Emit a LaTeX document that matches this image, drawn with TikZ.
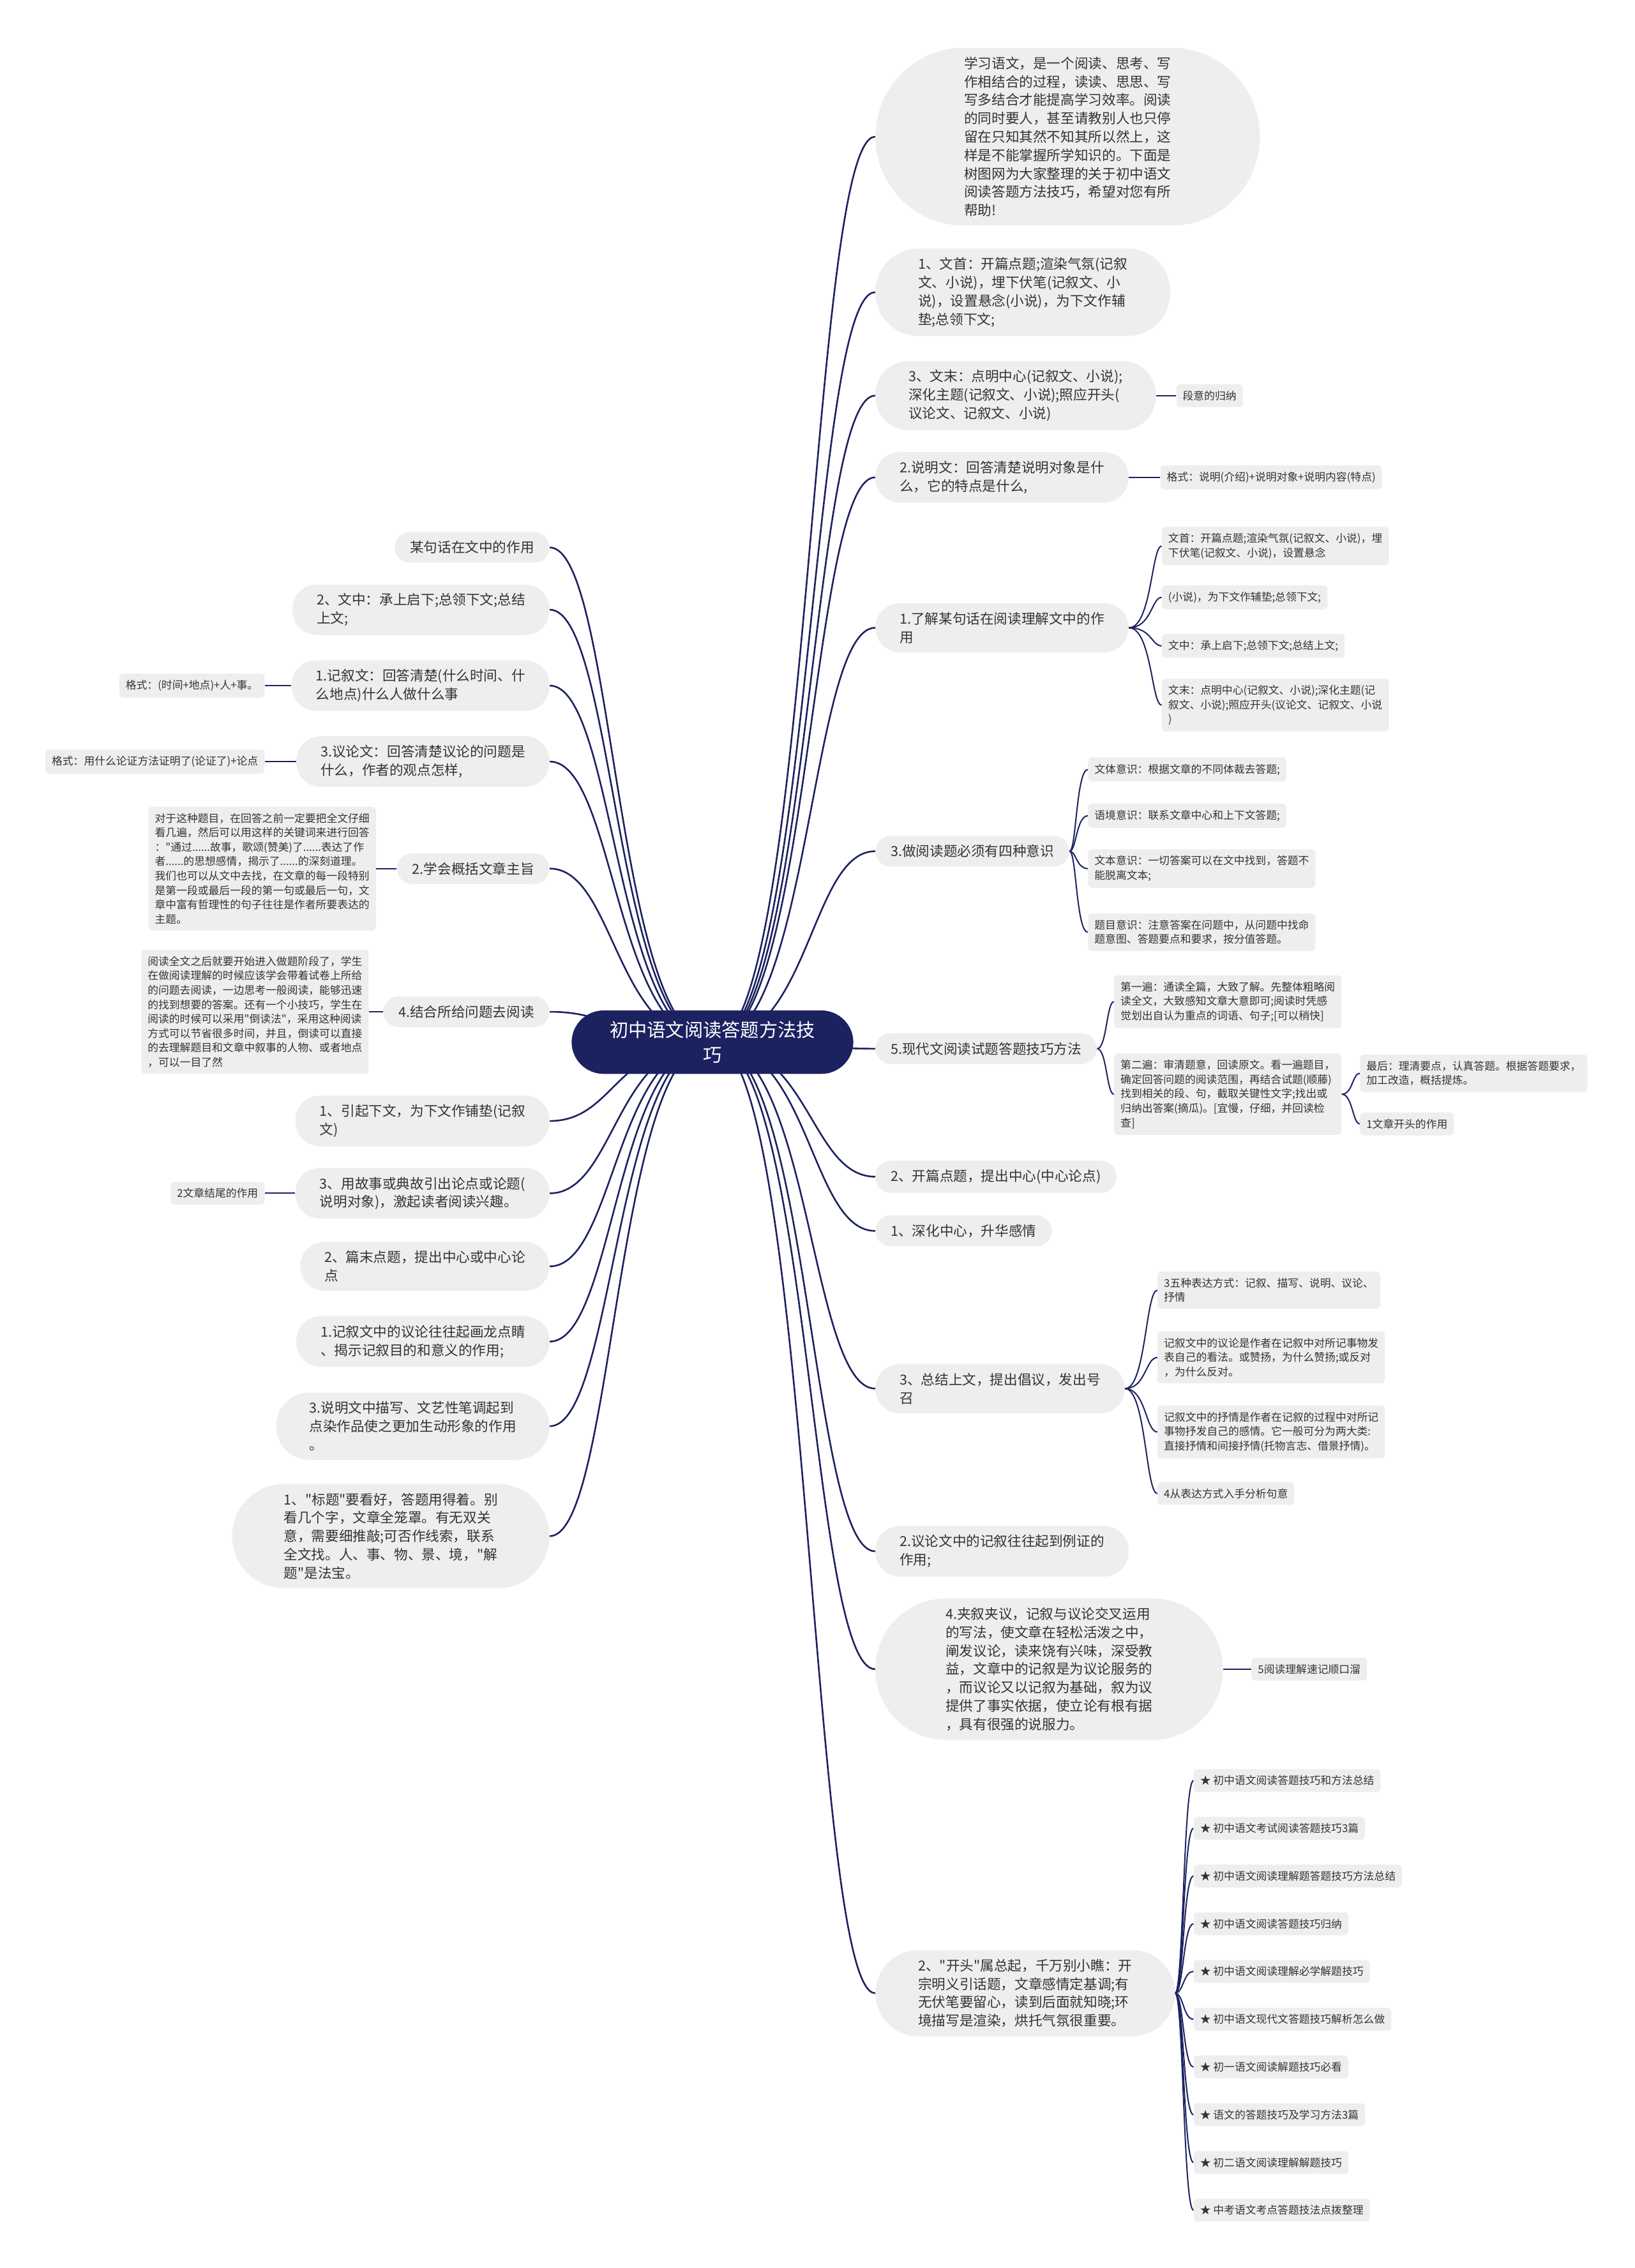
\documentclass[tikz,border=0pt]{standalone}
\usepackage{fontspec}
\setmainfont{Noto Sans CJK SC}[Ligatures=TeXOff]
\definecolor{navy}{HTML}{1C2260}
\definecolor{bubble}{HTML}{EEEEEE}
\definecolor{ink}{HTML}{333333}
\pgfdeclarelayer{paper}
\pgfdeclarelayer{links}
\pgfsetlayers{paper,links,main}
\tikzset{
  topic/.style={rectangle, rounded corners=#1, inner xsep=#1, fill=bubble, text=ink, align=left, inner ysep=7pt, font=\fontsize{10.8pt}{14.4pt}\selectfont},
  topic/.default=12pt,
  leaf/.style={rectangle, rounded corners=3pt, fill=bubble, text=ink, align=left, inner xsep=5pt, inner ysep=5pt, font=\fontsize{8.4pt}{11.3pt}\selectfont},
  branch/.style={navy, line width=1.3pt},
  twig/.style={navy, line width=1pt}
}

\begin{document}
\begin{tikzpicture}[x=1.1327pt, y=-1.1327pt]
\begin{pgfonlayer}{paper}
\fill[white] (0,0) rectangle (1130,1568);
\end{pgfonlayer}
\useasboundingbox (0,0) rectangle (1130,1568);

%root
\node[rectangle, rounded corners=25pt, fill=navy, text=white, align=center, inner xsep=30pt, inner ysep=8.5pt, font=\fontsize{14.6pt}{19.3pt}\selectfont] (root) at (492.5,720.5) {初中语文阅读答题方法技\\巧};

%right
\node[topic=69.5pt, anchor=west] (r1) at (605,94.5) {学习语文，是一个阅读、思考、写\\作相结合的过程，读读、思思、写\\写多结合才能提高学习效率。阅读\\的同时要人，甚至请教别人也只停\\留在只知其然不知其所以然上，这\\样是不能掌握所学知识的。下面是\\树图网为大家整理的关于初中语文\\阅读答题方法技巧，希望对您有所\\帮助!};
\node[topic=33.5pt, anchor=west] (r2) at (605,202) {1、文首：开篇点题;渲染气氛(记叙\\文、小说)，埋下伏笔(记叙文、小\\说)，设置悬念(小说)，为下文作辅\\垫;总领下文;};
\node[topic=26pt, anchor=west] (r3) at (605,273.5) {3、文末：点明中心(记叙文、小说);\\深化主题(记叙文、小说);照应开头(\\议论文、记叙文、小说)};
\node[topic=19pt, anchor=west] (r4) at (605,330) {2.说明文：回答清楚说明对象是什\\么，它的特点是什么,};
\node[topic=19pt, anchor=west] (r5) at (605,434) {1.了解某句话在阅读理解文中的作\\用};
\node[topic, anchor=west] (r6) at (605,588.5) {3.做阅读题必须有四种意识};
\node[topic, anchor=west] (r7) at (605,725) {5.现代文阅读试题答题技巧方法};
\node[topic, anchor=west] (r8) at (605,813.5) {2、开篇点题，提出中心(中心论点)};
\node[topic, anchor=west] (r9) at (605,851) {1、深化中心，升华感情};
\node[topic=19pt, anchor=west] (r10) at (605,960) {3、总结上文，提出倡议，发出号\\召};
\node[topic=19pt, anchor=west] (r11) at (605,1072.5) {2.议论文中的记叙往往起到例证的\\作用;};
\node[topic=55pt, anchor=west] (r12) at (605,1154) {4.夹叙夹议，记叙与议论交叉运用\\的写法，使文章在轻松活泼之中，\\阐发议论，读来饶有兴味，深受教\\益，文章中的记叙是为议论服务的\\，而议论又以记叙为基础，叙为议\\提供了事实依据，使立论有根有据\\，具有很强的说服力。};
\node[topic=33.5pt, anchor=west] (r13) at (605,1378) {2、"开头"属总起，千万别小瞧：开\\宗明义引话题，文章感情定基调;有\\无伏笔要留心，读到后面就知晓;环\\境描写是渲染，烘托气氛很重要。};

%right leaves
\node[leaf, anchor=west] (r3a) at (813,273.5) {段意的归纳};
\node[leaf, anchor=west] (r4a) at (802,330) {格式：说明(介绍)+说明对象+说明内容(特点)};
\node[leaf, anchor=west] (r5a) at (803,377.5) {文首：开篇点题;渲染气氛(记叙文、小说)，埋\\下伏笔(记叙文、小说)，设置悬念};
\node[leaf, anchor=west] (r5b) at (803,413) {(小说)，为下文作辅垫;总领下文;};
\node[leaf, anchor=west] (r5c) at (803,446.5) {文中：承上启下;总领下文;总结上文;};
\node[leaf, anchor=west] (r5d) at (803,487.5) {文末：点明中心(记叙文、小说);深化主题(记\\叙文、小说);照应开头(议论文、记叙文、小说\\)};
\node[leaf, anchor=west] (r6a) at (752,532) {文体意识：根据文章的不同体裁去答题;};
\node[leaf, anchor=west] (r6b) at (752,564) {语境意识：联系文章中心和上下文答题;};
\node[leaf, anchor=west] (r6c) at (752,600.5) {文本意识：一切答案可以在文中找到，答题不\\能脱离文本;};
\node[leaf, anchor=west] (r6d) at (752,644.5) {题目意识：注意答案在问题中，从问题中找命\\题意图、答题要点和要求，按分值答题。};
\node[leaf, anchor=west] (r7a) at (770,692.5) {第一遍：通读全篇，大致了解。先整体粗略阅\\读全文，大致感知文章大意即可;阅读时凭感\\觉划出自认为重点的词语、句子;[可以稍快]};
\node[leaf, anchor=west] (r7b) at (770,756.5) {第二遍：审清题意，回读原文。看一遍题目，\\确定回答问题的阅读范围，再结合试题(顺藤)\\找到相关的段、句，截取关键性文字;找出或\\归纳出答案(摘瓜)。[宜慢，仔细，并回读检\\查]};
\node[leaf, anchor=west] (r7c) at (940,742) {最后：理清要点，认真答题。根据答题要求，\\加工改造，概括提炼。};
\node[leaf, anchor=west] (r7d) at (940,777) {1文章开头的作用};
\node[leaf, anchor=west] (r10a) at (800,892) {3五种表达方式：记叙、描写、说明、议论、\\抒情};
\node[leaf, anchor=west] (r10b) at (800,938.5) {记叙文中的议论是作者在记叙中对所记事物发\\表自己的看法。或赞扬，为什么赞扬;或反对\\，为什么反对。};
\node[leaf, anchor=west] (r10c) at (800,990) {记叙文中的抒情是作者在记叙的过程中对所记\\事物抒发自己的感情。它一般可分为两大类:\\直接抒情和间接抒情(托物言志、借景抒情)。};
\node[leaf, anchor=west] (r10d) at (800,1032.5) {4从表达方式入手分析句意};
\node[leaf, anchor=west] (r12a) at (865,1154) {5阅读理解速记顺口溜};
\node[leaf, anchor=west] (s1) at (825,1231) {★ 初中语文阅读答题技巧和方法总结};
\node[leaf, anchor=west] (s2) at (825,1264) {★ 初中语文考试阅读答题技巧3篇};
\node[leaf, anchor=west] (s3) at (825,1297) {★ 初中语文阅读理解题答题技巧方法总结};
\node[leaf, anchor=west] (s4) at (825,1330) {★ 初中语文阅读答题技巧归纳};
\node[leaf, anchor=west] (s5) at (825,1363) {★ 初中语文阅读理解必学解题技巧};
\node[leaf, anchor=west] (s6) at (825,1396) {★ 初中语文现代文答题技巧解析怎么做};
\node[leaf, anchor=west] (s7) at (825,1429) {★ 初一语文阅读解题技巧必看};
\node[leaf, anchor=west] (s8) at (825,1462) {★ 语文的答题技巧及学习方法3篇};
\node[leaf, anchor=west] (s9) at (825,1495) {★ 初二语文阅读理解解题技巧};
\node[leaf, anchor=west] (s10) at (825,1528) {★ 中考语文考点答题技法点拨整理};

%left
\node[topic, anchor=east] (l1) at (380,378.5) {某句话在文中的作用};
\node[topic=19pt, anchor=east] (l2) at (380,421.5) {2、文中：承上启下;总领下文;总结\\上文;};
\node[topic=19pt, anchor=east] (l3) at (380,474) {1.记叙文：回答清楚(什么时间、什\\么地点)什么人做什么事};
\node[topic=19pt, anchor=east] (l4) at (380,526.5) {3.议论文：回答清楚议论的问题是\\什么，作者的观点怎样,};
\node[topic, anchor=east] (l5) at (380,600.5) {2.学会概括文章主旨};
\node[topic, anchor=east] (l6) at (380,699.5) {4.结合所给问题去阅读};
\node[topic=19pt, anchor=east] (l7) at (380,775) {1、引起下文，为下文作铺垫(记叙\\文)};
\node[topic=19pt, anchor=east] (l8) at (380,825) {3、用故事或典故引出论点或论题(\\说明对象)，激起读者阅读兴趣。};
\node[topic=19pt, anchor=east] (l9) at (380,875.5) {2、篇末点题，提出中心或中心论\\点};
\node[topic=19pt, anchor=east] (l10) at (380,927.5) {1.记叙文中的议论往往起画龙点睛\\、揭示记叙目的和意义的作用;};
\node[topic=26pt, anchor=east] (l11) at (380,986) {3.说明文中描写、文艺性笔调起到\\点染作品使之更加生动形象的作用\\。};
\node[topic=40.5pt, anchor=east] (l12) at (380,1062) {1、"标题"要看好，答题用得着。别\\看几个字，文章全笼罩。有无双关\\意，需要细推敲;可否作线索，联系\\全文找。人、事、物、景、境，"解\\题"是法宝。};

%left leaves
\node[leaf, anchor=east] (l3a) at (183,474) {格式：(时间+地点)+人+事。};
\node[leaf, anchor=east] (l4a) at (183,526.5) {格式：用什么论证方法证明了(论证了)+论点};
\node[leaf, anchor=east] (l5a) at (260,600.5) {对于这种题目，在回答之前一定要把全文仔细\\看几遍，然后可以用这样的关键词来进行回答\\："通过......故事，歌颂(赞美)了......表达了作\\者......的思想感情，揭示了......的深刻道理。\\我们也可以从文中去找，在文章的每一段特别\\是第一段或最后一段的第一句或最后一句，文\\章中富有哲理性的句子往往是作者所要表达的\\主题。};
\node[leaf, anchor=east] (l6a) at (255,699.5) {阅读全文之后就要开始进入做题阶段了，学生\\在做阅读理解的时候应该学会带着试卷上所给\\的问题去阅读，一边思考一般阅读，能够迅速\\的找到想要的答案。还有一个小技巧，学生在\\阅读的时候可以采用"倒读法"，采用这种阅读\\方式可以节省很多时间，并且，倒读可以直接\\的去理解题目和文章中叙事的人物、或者地点\\，可以一目了然};
\node[leaf, anchor=east] (l8a) at (183,825) {2文章结尾的作用};

%links
\begin{pgfonlayer}{links}
\coordinate (rr) at (560,720.5);
\coordinate (rl) at (425,720.5);
%root to right
\draw[branch] (root.center) .. controls (rr) and (rr |- r1.west) .. (r1.west);
\draw[branch] (root.center) .. controls (rr) and (rr |- r2.west) .. (r2.west);
\draw[branch] (root.center) .. controls (rr) and (rr |- r3.west) .. (r3.west);
\draw[branch] (root.center) .. controls (rr) and (rr |- r4.west) .. (r4.west);
\draw[branch] (root.center) .. controls (rr) and (rr |- r5.west) .. (r5.west);
\draw[branch] (root.center) .. controls (rr) and (rr |- r6.west) .. (r6.west);
\draw[branch] (root.center) .. controls (rr) and (rr |- r7.west) .. (r7.west);
\draw[branch] (root.center) .. controls (rr) and (rr |- r8.west) .. (r8.west);
\draw[branch] (root.center) .. controls (rr) and (rr |- r9.west) .. (r9.west);
\draw[branch] (root.center) .. controls (rr) and (rr |- r10.west) .. (r10.west);
\draw[branch] (root.center) .. controls (rr) and (rr |- r11.west) .. (r11.west);
\draw[branch] (root.center) .. controls (rr) and (rr |- r12.west) .. (r12.west);
\draw[branch] (root.center) .. controls (rr) and (rr |- r13.west) .. (r13.west);
%root to left
\draw[branch] (root.center) .. controls (rl) and (rl |- l1.east) .. (l1.east);
\draw[branch] (root.center) .. controls (rl) and (rl |- l2.east) .. (l2.east);
\draw[branch] (root.center) .. controls (rl) and (rl |- l3.east) .. (l3.east);
\draw[branch] (root.center) .. controls (rl) and (rl |- l4.east) .. (l4.east);
\draw[branch] (root.center) .. controls (rl) and (rl |- l5.east) .. (l5.east);
\draw[branch] (root.center) .. controls (rl) and (rl |- l6.east) .. (l6.east);
\draw[branch] (root.center) .. controls (rl) and (rl |- l7.east) .. (l7.east);
\draw[branch] (root.center) .. controls (rl) and (rl |- l8.east) .. (l8.east);
\draw[branch] (root.center) .. controls (rl) and (rl |- l9.east) .. (l9.east);
\draw[branch] (root.center) .. controls (rl) and (rl |- l10.east) .. (l10.east);
\draw[branch] (root.center) .. controls (rl) and (rl |- l11.east) .. (l11.east);
\draw[branch] (root.center) .. controls (rl) and (rl |- l12.east) .. (l12.east);
%right leaves
\draw[twig] (r3.east) -- (r3a.west);
\draw[twig] (r4.east) -- (r4a.west);
\draw[twig] (r12.east) -- (r12a.west);
\coordinate (m5) at (796,434);
\draw[twig] (r5.east) .. controls (m5) and (m5 |- r5a.west) .. (r5a.west);
\draw[twig] (r5.east) .. controls (m5) and (m5 |- r5b.west) .. (r5b.west);
\draw[twig] (r5.east) .. controls (m5) and (m5 |- r5c.west) .. (r5c.west);
\draw[twig] (r5.east) .. controls (m5) and (m5 |- r5d.west) .. (r5d.west);
\coordinate (m6) at (744,588.5);
\draw[twig] (r6.east) .. controls (m6) and (m6 |- r6a.west) .. (r6a.west);
\draw[twig] (r6.east) .. controls (m6) and (m6 |- r6b.west) .. (r6b.west);
\draw[twig] (r6.east) .. controls (m6) and (m6 |- r6c.west) .. (r6c.west);
\draw[twig] (r6.east) .. controls (m6) and (m6 |- r6d.west) .. (r6d.west);
\coordinate (m7) at (765,725);
\draw[twig] (r7.east) .. controls (m7) and (m7 |- r7a.west) .. (r7a.west);
\draw[twig] (r7.east) .. controls (m7) and (m7 |- r7b.west) .. (r7b.west);
\coordinate (m7b) at (935,756.5);
\draw[twig] (r7b.east) .. controls (m7b) and (m7b |- r7c.west) .. (r7c.west);
\draw[twig] (r7b.east) .. controls (m7b) and (m7b |- r7d.west) .. (r7d.west);
\coordinate (m10) at (792,960);
\draw[twig] (r10.east) .. controls (m10) and (m10 |- r10a.west) .. (r10a.west);
\draw[twig] (r10.east) .. controls (m10) and (m10 |- r10b.west) .. (r10b.west);
\draw[twig] (r10.east) .. controls (m10) and (m10 |- r10c.west) .. (r10c.west);
\draw[twig] (r10.east) .. controls (m10) and (m10 |- r10d.west) .. (r10d.west);
\coordinate (m13) at (818,1378);
\draw[twig] (r13.east) .. controls (m13) and (m13 |- s1.west) .. (s1.west);
\draw[twig] (r13.east) .. controls (m13) and (m13 |- s2.west) .. (s2.west);
\draw[twig] (r13.east) .. controls (m13) and (m13 |- s3.west) .. (s3.west);
\draw[twig] (r13.east) .. controls (m13) and (m13 |- s4.west) .. (s4.west);
\draw[twig] (r13.east) .. controls (m13) and (m13 |- s5.west) .. (s5.west);
\draw[twig] (r13.east) .. controls (m13) and (m13 |- s6.west) .. (s6.west);
\draw[twig] (r13.east) .. controls (m13) and (m13 |- s7.west) .. (s7.west);
\draw[twig] (r13.east) .. controls (m13) and (m13 |- s8.west) .. (s8.west);
\draw[twig] (r13.east) .. controls (m13) and (m13 |- s9.west) .. (s9.west);
\draw[twig] (r13.east) .. controls (m13) and (m13 |- s10.west) .. (s10.west);
%left leaves
\draw[twig] (l3.west) -- (l3a.east);
\draw[twig] (l4.west) -- (l4a.east);
\draw[twig] (l5.west) -- (l5a.east);
\draw[twig] (l6.west) -- (l6a.east);
\draw[twig] (l8.west) -- (l8a.east);
\end{pgfonlayer}
\end{tikzpicture}
\end{document}
